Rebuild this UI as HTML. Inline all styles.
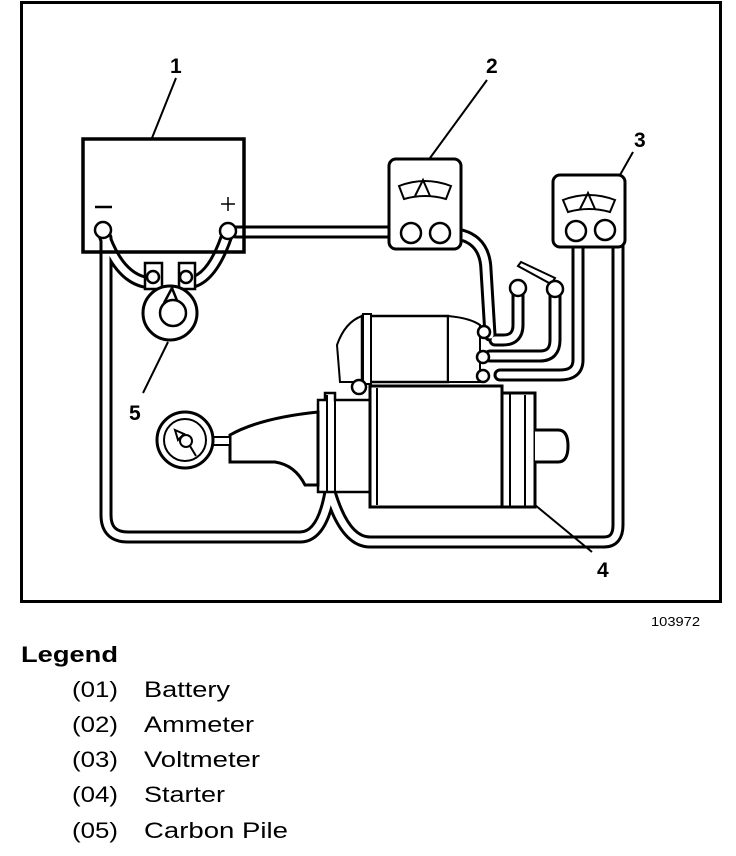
<!DOCTYPE html>
<html><head><meta charset="utf-8"><style>
html,body{margin:0;padding:0;background:#fff;}
svg{display:block}
</style></head><body>
<svg width="736" height="856" viewBox="0 0 736 856" xmlns="http://www.w3.org/2000/svg" font-family="Liberation Sans, sans-serif">
<rect x="0" y="0" width="736" height="856" fill="#fff"/>
<!-- frame -->
<rect x="21.5" y="2.5" width="699" height="599" fill="none" stroke="#000" stroke-width="3"/>

<!-- cables: black thick then white -->
<g fill="none" stroke-linejoin="round" stroke-linecap="round">
 <g stroke="#000" stroke-width="13">
  <path d="M236 232 H405"/>
  <path d="M445 233 Q485 233 486 270 L490 335"/>
  <path d="M106 238 V515 Q106 537 128 537 H300 Q322 537 330 492"/>
  <path d="M330 492 Q345 542 370 542 H604 Q618 542 618 525 V240 L606 232"/>
  <path d="M578 236 V360 Q578 375 560 375 H500"/>
  <path d="M555 292 V340 Q555 356 540 356 H490"/>
  <path d="M518 292 V325 Q518 340 503 340 H495"/>
  <path d="M103 232 Q120 282 152 283"/>
  <path d="M228 232 Q212 282 187 283"/>
 </g>
 <g stroke="#fff" stroke-width="7">
  <path d="M236 232 H405"/>
  <path d="M445 233 Q485 233 486 270 L490 335"/>
  <path d="M106 238 V515 Q106 537 128 537 H300 Q322 537 330 492"/>
  <path d="M330 492 Q345 542 370 542 H604 Q618 542 618 525 V240 L606 232"/>
  <path d="M578 236 V360 Q578 375 560 375 H500"/>
  <path d="M555 292 V340 Q555 356 540 356 H490"/>
  <path d="M518 292 V325 Q518 340 503 340 H495"/>
  <path d="M103 232 Q120 282 152 283"/>
  <path d="M228 232 Q212 282 187 283"/>
 </g>
</g>

<g fill="#fff" stroke="#000" stroke-width="2.5">
 <!-- battery -->
 <rect x="83" y="139" width="161" height="113" stroke-width="3.5" fill="none"/>
 <circle cx="103" cy="230" r="8"/>
 <circle cx="228" cy="231" r="8"/>
 <!-- carbon pile clamps -->
 <rect x="145" y="263" width="17" height="26"/>
 <rect x="179" y="263" width="16" height="26"/>
 <circle cx="153" cy="277" r="6"/>
 <circle cx="186" cy="277" r="6"/>
 <circle cx="170" cy="313" r="27" stroke-width="3"/>
 <path d="M164 303 L172 288 L178 303" fill="none"/>
 <circle cx="173" cy="313" r="13"/>
 <!-- ammeter -->
 <rect x="389" y="159" width="72" height="90" rx="7" stroke-width="3"/>
 <path d="M399 186 Q425 176 451 186 L446 199 Q425 193 404 199 Z" fill="none" stroke-width="2"/>
 <path d="M415 196 L423 180 L430 196" fill="none" stroke-width="2"/>
 <circle cx="411" cy="233" r="10"/>
 <circle cx="440" cy="233" r="10"/>
 <!-- voltmeter -->
 <rect x="553" y="175" width="72" height="72" rx="7" stroke-width="3"/>
 <path d="M563 200 Q589 190 615 200 L610 212 Q589 206 568 212 Z" fill="none" stroke-width="2"/>
 <path d="M580 209 L588 193 L595 209" fill="none" stroke-width="2"/>
 <circle cx="576" cy="231" r="10"/>
 <circle cx="605" cy="230" r="10"/>
 <!-- pile clamp bar at top -->
 <path d="M518 266 L521 262 L555 278 L551 284 Z" stroke-width="2"/>
 <circle cx="518" cy="288" r="8"/>
 <circle cx="555" cy="289" r="8"/>
 <!-- starter solenoid -->
 <path d="M337 345 Q345 322 362 316 V382 H340 Z" stroke-width="2"/>
 <rect x="362" y="316" width="86" height="66" stroke-width="2.5"/>
 <path d="M448 316 Q470 318 480 325 V382 H448 Z" stroke-width="2"/>
 <rect x="363" y="314" width="8" height="70" stroke-width="2"/>
 <circle cx="484" cy="332" r="6"/>
 <circle cx="483" cy="357" r="6"/>
 <circle cx="483" cy="376" r="6"/>
 <circle cx="359" cy="387" r="7"/>
 <!-- drive housing -->
 <path d="M318 400 H325 V393 H335 V400 H370 V492 H318 Z" stroke-width="2.5"/>
 <line x1="327" y1="395" x2="327" y2="492" stroke-width="2"/>
 <line x1="335" y1="395" x2="335" y2="492" stroke-width="2"/>
 <!-- motor -->
 <rect x="370" y="386" width="132" height="121" stroke-width="3"/>
 <line x1="377" y1="388" x2="377" y2="505" stroke-width="2"/>
 <rect x="502" y="393" width="33" height="114" stroke-width="3"/>
 <line x1="510" y1="393" x2="510" y2="507" stroke-width="2"/>
 <line x1="525" y1="395" x2="525" y2="507" stroke-width="2"/>
 <path d="M535 430 H558 Q568 430 568 446 Q568 462 558 462 H535" stroke-width="3"/>
 <!-- gauge and horn -->
 <path d="M230 435 Q260 418 318 412 V485 H305 Q295 465 275 462 H230 Z" stroke-width="3"/>
 <rect x="212" y="437" width="18" height="8" stroke-width="2"/>
 <circle cx="185" cy="440" r="28" stroke-width="3"/>
 <circle cx="185" cy="440" r="21" stroke-width="2"/>
 <circle cx="186" cy="441" r="6" stroke-width="2"/>
 <path d="M175 430 L178 440 L184 434 Z M190 446 L196 456" fill="none" stroke-width="2"/>
</g>

<!-- leader lines -->
<g stroke="#000" stroke-width="2" fill="none">
 <line x1="176" y1="78" x2="152" y2="138"/>
 <line x1="487" y1="80" x2="430" y2="158"/>
 <line x1="633" y1="152" x2="620" y2="175"/>
 <line x1="592" y1="552" x2="535" y2="505"/>
 <line x1="143" y1="393" x2="168" y2="342"/>
</g>
<!-- battery signs -->
<line x1="95" y1="207" x2="112" y2="207" stroke="#000" stroke-width="2.5"/>
<path d="M221 204 H235 M228 197 V211" stroke="#000" stroke-width="1.5"/>

<g font-weight="bold" font-size="21" fill="#000">
 <text x="170" y="73">1</text>
 <text x="486" y="73">2</text>
 <text x="634" y="147">3</text>
 <text x="597" y="577">4</text>
 <text x="129" y="420">5</text>
</g>
<text x="651" y="626" font-size="13" textLength="49" lengthAdjust="spacingAndGlyphs">103972</text>
<text x="21" y="662" font-size="22" font-weight="bold" textLength="97" lengthAdjust="spacingAndGlyphs">Legend</text>
<g font-size="22" fill="#000">
 <text x="72" y="697" textLength="46" lengthAdjust="spacingAndGlyphs">(01)</text><text x="144" y="697" textLength="86" lengthAdjust="spacingAndGlyphs">Battery</text>
 <text x="72" y="732" textLength="46" lengthAdjust="spacingAndGlyphs">(02)</text><text x="144" y="732" textLength="110" lengthAdjust="spacingAndGlyphs">Ammeter</text>
 <text x="72" y="767" textLength="46" lengthAdjust="spacingAndGlyphs">(03)</text><text x="144" y="767" textLength="116" lengthAdjust="spacingAndGlyphs">Voltmeter</text>
 <text x="72" y="802" textLength="46" lengthAdjust="spacingAndGlyphs">(04)</text><text x="144" y="802" textLength="81" lengthAdjust="spacingAndGlyphs">Starter</text>
 <text x="72" y="838" textLength="46" lengthAdjust="spacingAndGlyphs">(05)</text><text x="144" y="838" textLength="144" lengthAdjust="spacingAndGlyphs">Carbon Pile</text>
</g>
</svg>
</body></html>
